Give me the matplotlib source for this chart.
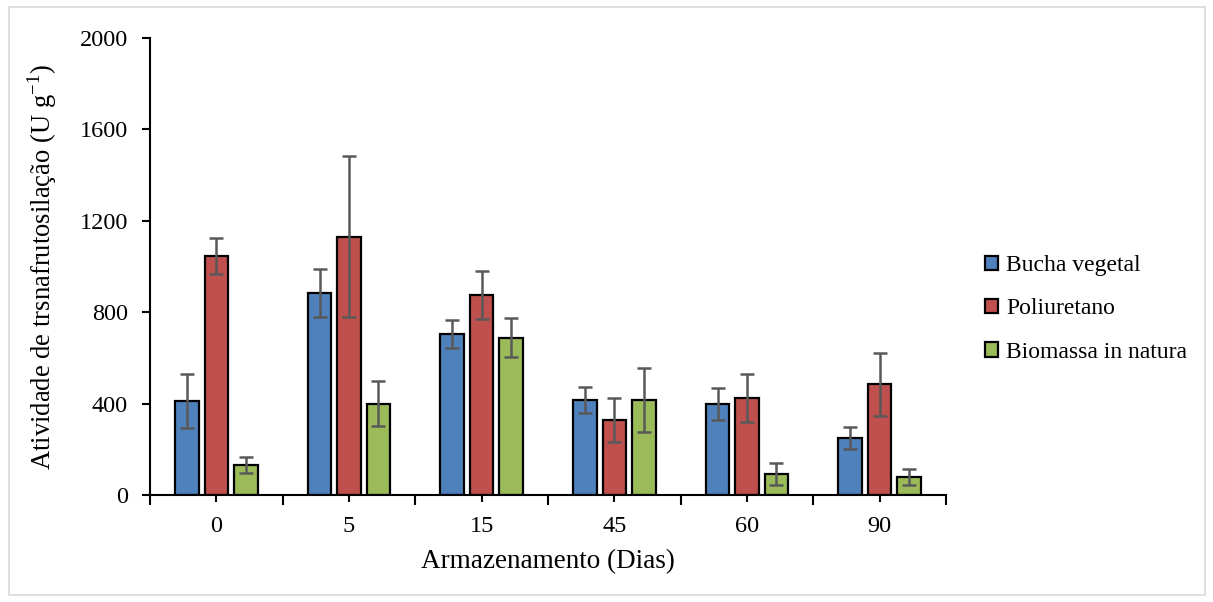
import matplotlib
matplotlib.use("Agg")
import matplotlib.pyplot as plt
import numpy as np
from matplotlib.patches import Rectangle

plt.rcParams['font.family'] = ['Liberation Serif', 'DejaVu Serif']
plt.rcParams['mathtext.fontset'] = 'custom'
plt.rcParams['mathtext.rm'] = 'Liberation Serif'

categories = ['0', '5', '15', '45', '60', '90']
series_names = ['Bucha vegetal', 'Poliuretano', 'Biomassa in natura']
bucha = [411, 885, 706, 416, 400, 249]
bucha_err = [119, 104, 61, 57, 70, 47]
poli = [1047, 1131, 877, 328, 425, 484]
poli_err = [79, 352, 105, 98, 106, 137]
biomassa = [131, 400, 689, 416, 92, 79]
biomassa_err = [35, 99, 86, 141, 48, 36]
yticks = [0, 400, 800, 1200, 1600, 2000]

colors = ['#4F81BD', '#C0504D', '#9BBB59']

W, H = 1213, 602
fig = plt.figure(figsize=(W / 100, H / 100), dpi=100)
ax = fig.add_axes([150 / W, 1 - 495 / H, (946 - 150) / W, (495 - 38) / H])

x = np.arange(len(categories))
width = 0.177
pitch = 0.222
for i, (vals, errs) in enumerate([(bucha, bucha_err), (poli, poli_err), (biomassa, biomassa_err)]):
    ax.bar(x + (i - 1) * pitch, vals, width, color=colors[i], edgecolor='black',
           linewidth=1.6, label=series_names[i], zorder=2,
           yerr=errs, error_kw=dict(ecolor='#595959', elinewidth=1.8, capsize=5, capthick=1.8, zorder=3))

ax.set_xlim(-0.5, len(categories) - 0.5)
ax.set_ylim(0, 2000)
ax.set_yticks(yticks)
ax.set_yticklabels([str(v) for v in yticks], fontsize=17.5)
ax.set_xticks(x)
ax.set_xticklabels(categories, fontsize=17.5)
ax.set_xticks(np.arange(-0.5, len(categories)), minor=True)
ax.tick_params(axis='x', which='major', length=5, width=1.5, direction='out', pad=10)
ax.tick_params(axis='x', which='minor', length=7, width=1.5, direction='out')
ax.tick_params(axis='y', length=6, width=1.5, direction='out', pad=10)

for s in ['top', 'right']:
    ax.spines[s].set_visible(False)
for s in ['left', 'bottom']:
    ax.spines[s].set_linewidth(1.5)

ax.set_xlabel('Armazenamento (Dias)', fontsize=19.5, labelpad=9)
ax.set_ylabel(r'Atividade de trsnafrutosilação (U g$^{\mathregular{-1}}$)', fontsize=19.2, labelpad=15)

leg = ax.legend(loc='center left', bbox_to_anchor=(978 / W, 1 - 309 / H),
                bbox_transform=fig.transFigure, frameon=False, fontsize=17,
                handlelength=0.55, handleheight=0.55, handletextpad=0.35, labelspacing=0.95,
                borderaxespad=0, borderpad=0.3)

fig.patches.append(Rectangle((9 / W, 7 / H), (1205 - 9) / W, (595 - 7) / H,
                             transform=fig.transFigure, fill=False,
                             edgecolor='#d9d9d9', linewidth=1.2))

fig.savefig('out.png', dpi=100)
